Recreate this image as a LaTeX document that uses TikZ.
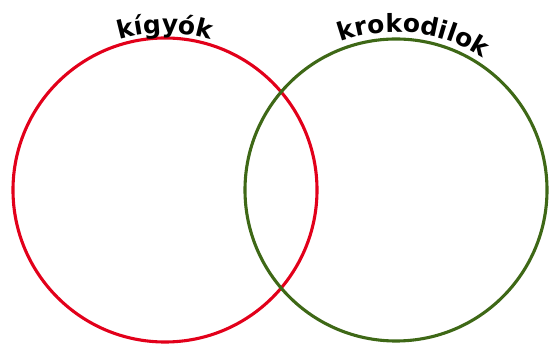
\documentclass[tikz,border=0pt]{standalone}
\usepackage{fontspec}
\setmainfont{DejaVu Sans}
\usetikzlibrary{decorations.text}
\definecolor{vred}{RGB}{226,0,26}
\definecolor{vgreen}{RGB}{62,104,22}
\begin{document}
\begin{tikzpicture}[x=1pt,y=1pt,
  ring/.style={line width=3.1pt},
  arclabel/.style={decorate, decoration={text along path, text align=center,
    text={|\fontsize{25}{29}\selectfont\bfseries|#1}}}]
\useasboundingbox (0,0) rectangle (553,344);
\coordinate (cR) at (165,154);
\coordinate (cG) at (396,154);
\draw[ring, vred] (cR) circle[radius=152];
\draw[ring, vgreen] (cG) circle[radius=151];
\path[arclabel={kígyók}] (cR) ++(135:157) arc[start angle=135, end angle=45, radius=157];
\path[arclabel={krokodilok}] (cG) ++(128.5:158) arc[start angle=128.5, end angle=38.5, radius=158];
\end{tikzpicture}
\end{document}
